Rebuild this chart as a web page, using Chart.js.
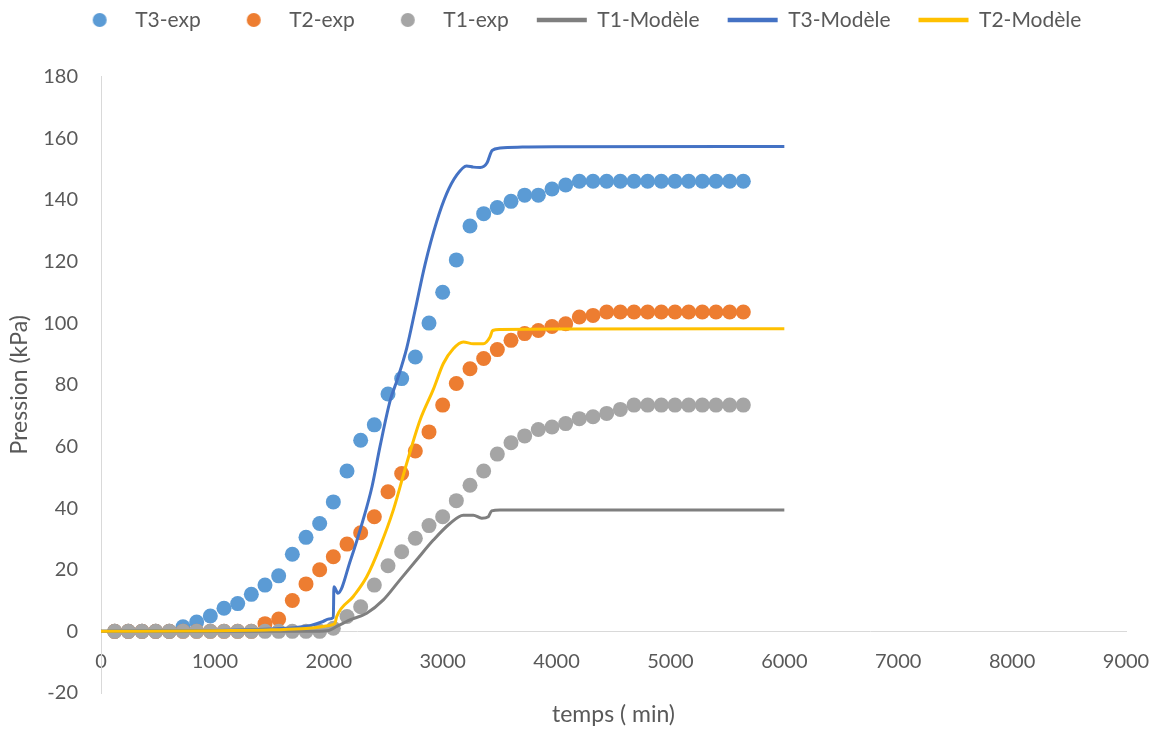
<!DOCTYPE html>
<html>
<head>
<meta charset="utf-8">
<script src="https://cdn.jsdelivr.net/npm/chart.js"></script>
<style>
  html, body { margin: 0; padding: 0; background: #fff; }
  #wrap { width: 1160px; height: 729px; }
</style>
</head>
<body>
<div id="wrap"><canvas id="chart" width="1160" height="729"></canvas></div>

<script>
  // experimental readings (every 120 min)
  const tExp = [120, 240, 360, 480, 600, 720, 840, 960, 1080, 1200, 1320, 1440, 1560, 1680, 1800, 1920,
    2040, 2160, 2280, 2400, 2520, 2640, 2760, 2880, 3000, 3120, 3240, 3360, 3480, 3600, 3720, 3840,
    3960, 4080, 4200, 4320, 4440, 4560, 4680, 4800, 4920, 5040, 5160, 5280, 5400, 5520, 5640];

  const t3Exp = [0, 0, 0, 0, 0, 1.5, 3, 5, 7.5, 9, 12, 15, 18, 25, 30.5, 35,
    42, 52, 62, 67, 77, 82, 89, 100, 110, 120.5, 131.5, 135.5, 137.5, 139.5, 141.5, 141.5,
    143.5, 144.8, 146, 146, 146, 146, 146, 146, 146, 146, 146, 146, 146, 146, 146];

  const t2Exp = [0, 0, 0, 0, 0, 0, 0, 0, 0, 0, 0, 2.5, 4, 10, 15.4, 20,
    24.2, 28.3, 32, 37.2, 45.3, 51.2, 58.5, 64.7, 73.4, 80.4, 85.2, 88.5, 91.4, 94.4, 96.6, 97.6,
    98.9, 99.8, 102, 102.5, 103.6, 103.6, 103.6, 103.6, 103.6, 103.6, 103.6, 103.6, 103.6, 103.6, 103.6];

  const t1Exp = [0, 0, 0, 0, 0, 0, 0, 0, 0, 0, 0, 0, 0, 0, 0, 0,
    1, 4.8, 8, 15, 21.3, 25.8, 30.2, 34.3, 37.2, 42.4, 47.4, 52, 57.5, 61.2, 63.4, 65.5,
    66.3, 67.4, 69, 69.6, 70.7, 72, 73.4, 73.4, 73.4, 73.4, 73.4, 73.4, 73.4, 73.4, 73.4];

  // model curves
  const t1ModT = [0, 1800, 2000, 2070, 2186, 2333, 2479, 2625, 2772, 2918, 3064, 3181, 3269, 3343, 3401, 3430, 3503, 4000, 6000];
  const t1ModV = [0, 0, 0.3, 1.6, 3.7, 5.9, 10.2, 16.7, 23.2, 29.6, 35, 37.7, 37.7, 36.7, 37.2, 39.1, 39.4, 39.4, 39.4];

  const t3ModT = [0, 1000, 1500, 1700, 1850, 1950, 2000, 2040, 2045, 2080, 2190, 2300, 2380, 2450, 2540, 2600,
    2685, 2757, 2845, 2948, 3035, 3123, 3210, 3270, 3330, 3390, 3420, 3435, 3505, 3700, 4000, 6000];
  const t3ModV = [0, 0.3, 0.8, 1.2, 2, 3.2, 4, 4.5, 14.5, 12.4, 23, 36, 47, 60, 75, 81.5,
    92, 104, 119, 133, 142, 148, 151, 150.6, 150.5, 152, 155, 156, 156.8, 157.1, 157.2, 157.3];

  const t2ModT = [0, 1000, 1500, 1800, 1952, 2040, 2055, 2070, 2215, 2333, 2450, 2567, 2684, 2801, 2918, 3006,
    3093, 3181, 3269, 3357, 3416, 3439, 3503, 4000, 6000];
  const t2ModV = [0, 0.2, 0.5, 0.9, 1.6, 2.3, 2.7, 4.8, 11.3, 17.7, 27.5, 39.4, 54.5, 68.5, 78.5, 86.9,
    91.7, 93.9, 93.3, 93.3, 95.5, 97.6, 97.9, 98.1, 98.2];

  const xTicks = { min: 0, max: 9000, step: 1000 };
  const yTicks = { min: -20, max: 180, step: 20 };

  const FONT = 'Lato, "Open Sans", sans-serif';
  const TEXT = '#595959';
  const AXIS = '#D9D9D9';

  const toPoints = (xs, ys) => xs.map((x, i) => ({ x: x, y: ys[i] }));

  // small round marker for the legend (keeps the dot round next to 50px lines)
  const legendDot = (color) => {
    const c = document.createElement('canvas');
    c.width = 16;
    c.height = 16;
    const g = c.getContext('2d');
    g.fillStyle = color;
    g.beginPath();
    g.arc(8, 8, 7, 0, Math.PI * 2);
    g.fill();
    return c;
  };

  const expSet = (label, ys, color, order) => ({
    label: label,
    data: toPoints(tExp, ys),
    backgroundColor: color,
    borderColor: color,
    borderWidth: 0,
    pointRadius: 7.5,
    pointHoverRadius: 7.5,
    pointStyle: 'circle',
    showLine: false,
    order: order
  });

  const modelSet = (label, xs, ys, color, order) => ({
    label: label,
    data: toPoints(xs, ys),
    borderColor: color,
    backgroundColor: color,
    borderWidth: 3,
    pointRadius: 0,
    pointHoverRadius: 0,
    pointStyle: 'line',
    showLine: true,
    cubicInterpolationMode: 'monotone',
    order: order
  });

  const data = {
    datasets: [
      expSet('T3-exp', t3Exp, '#5B9BD5', 6),
      expSet('T2-exp', t2Exp, '#ED7D31', 5),
      expSet('T1-exp', t1Exp, '#A5A5A5', 4),
      modelSet('T1-Modèle', t1ModT, t1ModV, '#7F7F7F', 3),
      modelSet('T3-Modèle', t3ModT, t3ModV, '#4472C4', 2),
      modelSet('T2-Modèle', t2ModT, t2ModV, '#FFC000', 1)
    ]
  };

  const config = {
    type: 'scatter',
    data: data,
    options: {
      responsive: false,
      animation: false,
      devicePixelRatio: 1,
      layout: { padding: { top: -18.5, right: 34, bottom: 36, left: 30 } },
      scales: {
        x: {
          type: 'linear',
          position: { y: 0 },
          min: xTicks.min,
          max: xTicks.max,
          grid: { display: false, drawTicks: false },
          border: { display: true, color: AXIS, width: 1 },
          ticks: {
            stepSize: xTicks.step,
            color: TEXT,
            padding: 18,
            maxRotation: 0,
            autoSkip: false,
            font: { family: FONT, size: 20 },
            callback: (v) => String(v)
          },
          title: {
            display: true,
            text: 'temps ( min)',
            color: TEXT,
            padding: { top: 9, bottom: 0 },
            font: { family: FONT, size: 23 }
          },
          // the end labels fit inside the layout padding already
          afterFit: (scale) => { scale.paddingLeft = 0; scale.paddingRight = 0; }
        },
        y: {
          type: 'linear',
          min: yTicks.min,
          max: yTicks.max,
          grid: { display: false, drawTicks: false },
          border: { display: true, color: AXIS, width: 1 },
          ticks: {
            stepSize: yTicks.step,
            color: TEXT,
            padding: 23,
            font: { family: FONT, size: 20 },
            callback: (v) => String(v)
          },
          title: {
            display: true,
            text: 'Pression (kPa)',
            color: TEXT,
            padding: { top: -23.8, bottom: 0 },
            font: { family: FONT, size: 23 }
          },
          afterFit: (scale) => { scale.width = 71; }
        },
        // empty band between the legend and the plot
        spacer: {
          type: 'linear',
          axis: 'x',
          position: 'top',
          display: true,
          ticks: { display: false },
          grid: { display: false, drawTicks: false },
          border: { display: false },
          afterFit: (scale) => { scale.height = 36; }
        }
      },
      plugins: {
        tooltip: { enabled: false },
        legend: {
          position: 'top',
          reverse: true,
          labels: {
            usePointStyle: true,
            pointStyleWidth: 50,
            boxHeight: 10,
            padding: 28,
            color: TEXT,
            font: { family: FONT, size: 21 },
            generateLabels: (chart) => {
              const items = Chart.defaults.plugins.legend.labels.generateLabels(chart);
              return items.map((item) => {
                const ds = chart.data.datasets[item.datasetIndex];
                if (ds.showLine) {
                  item.lineWidth = 4.5;
                } else {
                  item.pointStyle = legendDot(ds.backgroundColor);
                }
                return item;
              });
            }
          }
        }
      }
    }
  };

  const myChart = new Chart(document.getElementById('chart'), config);
</script>
</body>
</html>
